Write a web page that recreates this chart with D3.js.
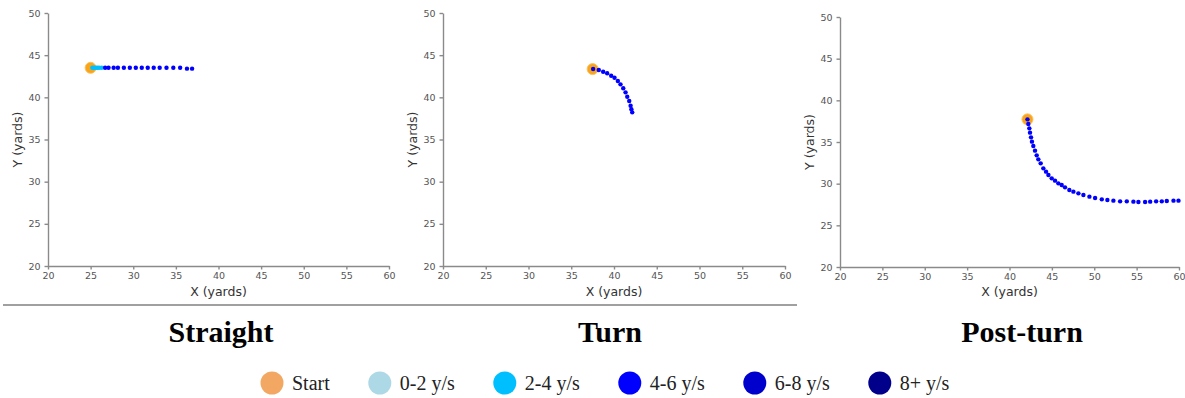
<!DOCTYPE html>
<html>
<head>
<meta charset="utf-8">
<script src="https://cdn.jsdelivr.net/npm/d3@7"></script>
<style>
  body { margin: 0; background: #fff; }
  .tick text { font-family: "DejaVu Sans", sans-serif; font-size: 9.5px; fill: #555; }
  .tick line, .domain { stroke: #8a8a8a; stroke-width: 1.4; }
</style>
</head>
<body>
<div id="chart"></div>
<script>
// Canvas size
var width = 1185,
    height = 398;

// Speed bins used for the dot colours and the legend
var legendLabels = ["Start", "0-2 y/s", "2-4 y/s", "4-6 y/s", "6-8 y/s", "8+ y/s"];
var legendColors = ["#f2a863", "#add8e6", "#00bfff", "#0000ff", "#0000cd", "#00008b"];
var speedBreaks = [2, 4, 6, 8];
var speedColors = ["#add8e6", "#00bfff", "#0000ff", "#0000cd", "#00008b"];

// Axis ticks
var xTicks = [20, 25, 30, 35, 40, 45, 50, 55, 60];
var yTicks = [20, 25, 30, 35, 40, 45, 50];

// Phase titles
var phaseNames = ["Straight", "Turn", "Post-turn"];

// Straight phase (yards, yards, yards/second)
var straightStart = [25.0, 43.5];
var straightX = [25.2, 25.4, 25.6, 25.8, 26.0, 26.3, 26.7, 27.1, 27.7, 28.2, 28.9, 29.6, 30.3, 31.0,
                 31.7, 32.4, 33.1, 33.9, 34.7, 35.5, 36.3, 36.9];
var straightY = [43.5, 43.5, 43.5, 43.5, 43.5, 43.5, 43.5, 43.5, 43.5, 43.5, 43.5, 43.5, 43.5, 43.5,
                 43.5, 43.5, 43.5, 43.5, 43.5, 43.5, 43.4, 43.4];
var straightSpeed = [2.4, 2.8, 3.1, 3.4, 3.7, 3.9, 4.1, 4.4, 4.7, 5.0, 5.2, 5.4, 5.5, 5.6,
                     5.7, 5.8, 5.8, 5.9, 5.9, 5.9, 5.9, 5.9];

// Turn phase
var turnStart = [37.5, 43.35];
var turnX = [37.56, 38.22, 38.73, 39.2, 39.67, 40.06, 40.45, 40.76, 41.08, 41.35, 41.55, 41.78, 41.94, 42.03, 42.13];
var turnY = [43.36, 43.24, 43.04, 42.85, 42.56, 42.33, 41.93, 41.54, 41.07, 40.59, 40.07, 39.56, 39.0, 38.6, 38.22];
var turnSpeed = [5.2, 5.3, 5.3, 5.4, 5.4, 5.4, 5.4, 5.4, 5.4, 5.3, 5.3, 5.3, 5.2, 5.2, 5.2];

// Post-turn phase
var postStart = [42.12, 37.72];
var postX = [42.12, 42.22, 42.34, 42.42, 42.54, 42.65, 42.81, 43.01, 43.21, 43.40, 43.68, 43.99, 44.31,
             44.59, 44.98, 45.37, 45.76, 46.16, 46.55, 47.06, 47.54, 48.13, 48.72, 49.43, 50.10,
             50.89, 51.55, 52.26, 53.05, 53.84, 54.62, 55.21, 56.0, 56.6, 57.3, 57.97, 58.56, 59.35, 59.94];
var postY = [37.72, 37.16, 36.64, 36.12, 35.56, 35.04, 34.52, 33.96, 33.40, 32.92, 32.44, 31.84, 31.44,
             31.04, 30.64, 30.36, 30.04, 29.84, 29.56, 29.24, 29.04, 28.84, 28.64, 28.44, 28.28,
             28.12, 28.04, 27.96, 27.88, 27.88, 27.84, 27.80, 27.80, 27.84, 27.88, 27.88, 27.92, 27.96, 27.96];
var postSpeed = [5.6, 5.6, 5.6, 5.6, 5.7, 5.7, 5.7, 5.7, 5.7, 5.7, 5.8, 5.8, 5.8,
                 5.8, 5.8, 5.8, 5.8, 5.8, 5.8, 5.8, 5.8, 5.9, 5.9, 5.9, 5.9,
                 5.9, 5.9, 5.9, 5.9, 5.9, 5.9, 5.9, 5.9, 5.9, 5.9, 5.9, 5.9, 5.9, 5.9];

var color = d3.scaleThreshold()
    .domain(speedBreaks)
    .range(speedColors);

// Panel frames in pixels (left, right, top, bottom) and title centre
var panels = [
  { start: straightStart, xs: straightX, ys: straightY, sp: straightSpeed,
    left: 48, right: 389, top: 13, bottom: 266, titleX: 221 },
  { start: turnStart, xs: turnX, ys: turnY, sp: turnSpeed,
    left: 443, right: 785, top: 13, bottom: 266, titleX: 610 },
  { start: postStart, xs: postX, ys: postY, sp: postSpeed,
    left: 840, right: 1179, top: 17, bottom: 267, titleX: 1022 }
];

var svg = d3.select("#chart").append("svg")
    .attr("width", width)
    .attr("height", height)
    .style("background", "#fff");

panels.forEach(function(p, i) {
  var x = d3.scaleLinear().domain([20, 60]).range([p.left, p.right]);
  var y = d3.scaleLinear().domain([20, 50]).range([p.bottom, p.top]);

  var g = svg.append("g");

  g.append("g")
    .attr("transform", "translate(0," + p.bottom + ")")
    .call(d3.axisBottom(x).tickValues(xTicks).tickSize(3.5).tickSizeOuter(0).tickPadding(3));

  g.append("g")
    .attr("transform", "translate(" + p.left + ",0)")
    .call(d3.axisLeft(y).tickValues(yTicks).tickSize(3.5).tickSizeOuter(0).tickPadding(4));

  // axis labels
  g.append("text")
    .attr("x", (p.left + p.right) / 2)
    .attr("y", 296)
    .attr("text-anchor", "middle")
    .style("font-family", "DejaVu Sans, sans-serif")
    .style("font-size", "12.5px")
    .style("fill", "#333")
    .text("X (yards)");

  g.append("text")
    .attr("transform", "translate(" + (p.left - 26) + "," + ((p.top + p.bottom) / 2) + ") rotate(-90)")
    .attr("text-anchor", "middle")
    .style("font-family", "DejaVu Sans, sans-serif")
    .style("font-size", "12.5px")
    .style("fill", "#333")
    .text("Y (yards)");

  // start marker, then the trajectory dots on top
  g.append("circle")
    .attr("cx", x(p.start[0]))
    .attr("cy", y(p.start[1]))
    .attr("r", 5.5)
    .style("fill", "#f9a51a")
    .style("stroke", "#fbc060")
    .style("stroke-width", 1);

  var pts = p.xs.map(function(d, k) { return { x: d, y: p.ys[k], s: p.sp[k] }; });
  g.selectAll(".dot")
    .data(pts)
    .enter().append("circle")
    .attr("class", "dot")
    .attr("cx", function(d) { return x(d.x); })
    .attr("cy", function(d) { return y(d.y); })
    .attr("r", 2.2)
    .style("fill", function(d) { return color(d.s); });

  // phase title
  svg.append("text")
    .attr("x", p.titleX)
    .attr("y", 342)
    .attr("text-anchor", "middle")
    .style("font-family", "Liberation Serif, serif")
    .style("font-weight", "bold")
    .style("font-size", "30px")
    .style("fill", "#000")
    .text(phaseNames[i]);
});

// divider line under the first two panels
svg.append("line")
  .attr("x1", 3).attr("x2", 797)
  .attr("y1", 305).attr("y2", 305)
  .style("stroke", "#808080")
  .style("stroke-width", 1.3);

// Legend
var legend = svg.append("g").attr("class", "legend");
var cx = 272;
legendLabels.forEach(function(d, i) {
  legend.append("circle")
    .attr("cx", cx)
    .attr("cy", 383)
    .attr("r", 11.5)
    .style("fill", legendColors[i]);
  var t = legend.append("text")
    .attr("x", cx + 20)
    .attr("y", 390)
    .style("font-family", "Liberation Serif, serif")
    .style("font-size", "20px")
    .style("fill", "#222")
    .text(d);
  cx = cx + 20 + t.node().getComputedTextLength() + 50;
});
</script>
</body>
</html>
